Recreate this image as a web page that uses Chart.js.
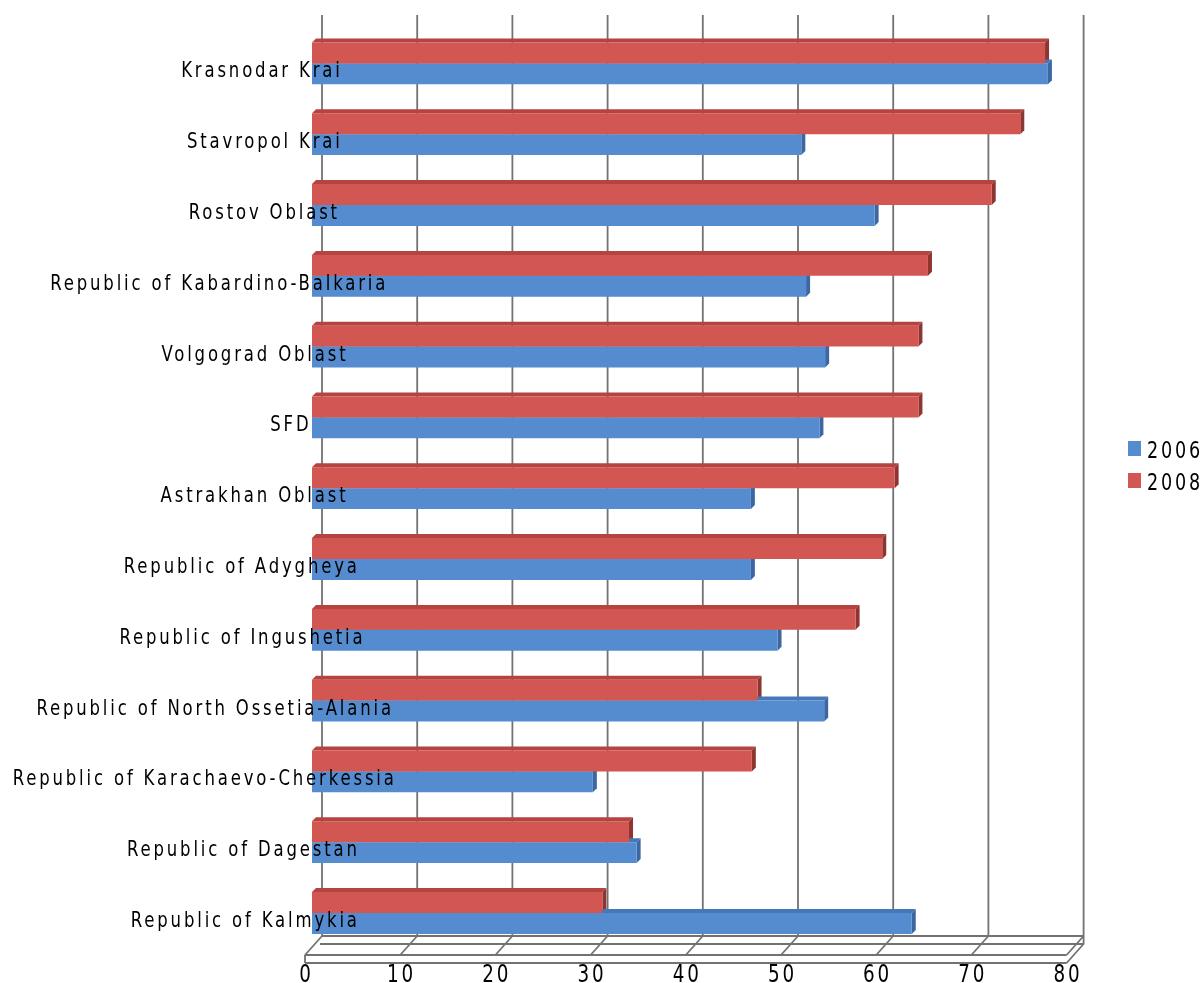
<!DOCTYPE html>
<html>
<head>
<meta charset="utf-8">
<script src="https://cdn.jsdelivr.net/npm/chart.js@4.4.1/dist/chart.umd.min.js"></script>
<style>
  html, body { margin: 0; padding: 0; background: #fff; }
  #wrap { width: 1202px; height: 983px; }
</style>
</head>
<body>
<div id="wrap"><canvas id="chart" width="1202" height="983"></canvas></div>
<script>
// data
const regions = [
  "Krasnodar Krai",
  "Stavropol Krai",
  "Rostov Oblast",
  "Republic of Kabardino-Balkaria",
  "Volgograd Oblast",
  "SFD",
  "Astrakhan Oblast",
  "Republic of Adygheya",
  "Republic of Ingushetia",
  "Republic of North Ossetia-Alania",
  "Republic of Karachaevo-Cherkessia",
  "Republic of Dagestan",
  "Republic of Kalmykia"
];
const values2006 = [77.3, 51.4, 59.1, 51.9, 53.9, 53.3, 46.1, 46.1, 48.9, 53.8, 29.5, 34.1, 63.0];
const values2008 = [77.0, 74.4, 71.4, 64.7, 63.7, 63.7, 61.2, 59.9, 57.1, 46.8, 46.2, 33.3, 30.5];
const seriesNames = ["2006", "2008"];
const xTicks = [0, 10, 20, 30, 40, 50, 60, 70, 80];

const blue = '#558ccf', red = '#d25652';
const sideColors = ['#8e3431', '#3c67a3'];   // by dataset index (2008, 2006)
const topColors = ['#b5433f', '#4677b8'];
const DEPTH = 4;
const WALL = 10;     // back wall shift
const FRONT = -7;    // front edge of floor
const SX = 0.85;     // horizontal squeeze of text
const SPACING = 2.84;

function drawText(ctx, text, left, baseline, size) {
  ctx.save();
  ctx.font = size + 'px "DejaVu Sans Condensed", "DejaVu Sans", sans-serif';
  ctx.textAlign = 'left';
  ctx.textBaseline = 'alphabetic';
  ctx.fillStyle = '#000';
  ctx.translate(left, baseline);
  ctx.scale(SX, 1);
  ctx.letterSpacing = (SPACING / SX) + 'px';
  ctx.fillText(text, 0, 0);
  ctx.restore();
}

function textWidth(ctx, text, size, spaced) {
  ctx.save();
  ctx.font = size + 'px "DejaVu Sans Condensed", "DejaVu Sans", sans-serif';
  ctx.letterSpacing = '0px';
  let w = ctx.measureText(text).width * SX;
  ctx.restore();
  if (spaced) w += SPACING * (text.length - 1);
  return w;
}

function poly(ctx, pts) {
  ctx.beginPath();
  ctx.moveTo(pts[0][0], pts[0][1]);
  for (let i = 1; i < pts.length; i++) ctx.lineTo(pts[i][0], pts[i][1]);
  ctx.closePath();
  ctx.fill();
}

const fake3d = {
  id: 'fake3d',
  beforeDatasetsDraw(chart) {
    const ctx = chart.ctx, xs = chart.scales.x;
    const wallTop = 15, floorBack = 936, floorIn = 944, floorFront = 955, floorBottom = 963;
    const x0 = xs.getPixelForValue(0), x80 = xs.getPixelForValue(80);

    ctx.save();
    ctx.strokeStyle = '#727272';
    ctx.lineWidth = 1.8;
    // back wall grid
    xTicks.forEach(v => {
      let px = xs.getPixelForValue(v) + WALL;
      ctx.beginPath();
      ctx.moveTo(px, wallTop);
      ctx.lineTo(px, floorBack);
      ctx.stroke();
    });
    // floor slab
    ctx.beginPath();
    ctx.moveTo(x0 + WALL, floorBack); ctx.lineTo(x80 + WALL, floorBack);
    ctx.moveTo(x0 + WALL - 2, floorIn); ctx.lineTo(x80 + WALL, floorIn);
    ctx.moveTo(x0 + FRONT, floorFront); ctx.lineTo(x80 + FRONT, floorFront);
    ctx.moveTo(x0 + FRONT, floorBottom); ctx.lineTo(x80 + FRONT, floorBottom);
    ctx.moveTo(x0 + FRONT, floorFront); ctx.lineTo(x0 + FRONT, floorBottom);
    ctx.moveTo(x80 + WALL, floorBack); ctx.lineTo(x80 + WALL, floorIn);
    ctx.lineTo(x80 + FRONT, floorBottom);
    ctx.stroke();
    xTicks.forEach(v => {
      let px = xs.getPixelForValue(v);
      ctx.beginPath();
      ctx.moveTo(px + WALL, floorBack);
      ctx.lineTo(px + FRONT, floorFront);
      ctx.stroke();
    });
    ctx.restore();

    // top and side faces of bars, fronts are drawn by chart.js afterwards
    ctx.save();
    chart.data.datasets.forEach((ds, di) => {
      chart.getDatasetMeta(di).data.forEach(bar => {
        const p = bar.getProps(['x', 'y', 'base', 'height'], true);
        const top = p.y - p.height / 2, bottom = p.y + p.height / 2;
        ctx.fillStyle = topColors[di];
        poly(ctx, [[p.base, top], [p.base + DEPTH, top - DEPTH], [p.x + DEPTH, top - DEPTH], [p.x, top]]);
        ctx.fillStyle = sideColors[di];
        poly(ctx, [[p.x, top], [p.x + DEPTH, top - DEPTH], [p.x + DEPTH, bottom - DEPTH], [p.x, bottom]]);
      });
    });
    ctx.restore();
  },
  afterDatasetsDraw(chart) {
    const ctx = chart.ctx, xs = chart.scales.x, ys = chart.scales.y;
    // category labels: natural width right-aligned, spacing spills over the bars
    regions.forEach((name, i) => {
      let y = ys.getPixelForValue(i) + 14;
      drawText(ctx, name, 303 - textWidth(ctx, name, 21.6, false), y, 21.6);
    });
    // value ticks along the floor front
    xTicks.forEach(v => {
      let label = String(v);
      let w = textWidth(ctx, label, 24, true);
      drawText(ctx, label, xs.getPixelForValue(v) + FRONT - w / 2, 982, 24);
    });
    // legend
    const legend = [[seriesNames[0], blue, 441], [seriesNames[1], red, 473]];
    legend.forEach(l => {
      ctx.fillStyle = l[1];
      ctx.fillRect(1128, l[2], 13, 15);
      drawText(ctx, l[0], 1147, l[2] + 17, 23);
    });
  }
};

new Chart(document.getElementById('chart'), {
  type: 'bar',
  data: {
    labels: regions,
    datasets: [
      { label: seriesNames[1], data: values2008, backgroundColor: red, borderWidth: 0 },
      { label: seriesNames[0], data: values2006, backgroundColor: blue, borderWidth: 0 }
    ]
  },
  options: {
    indexAxis: 'y',
    responsive: false,
    animation: false,
    layout: { padding: { left: 312, right: 128.4, top: 28, bottom: 34.6 } },
    categoryPercentage: 0.59,
    barPercentage: 1,
    scales: {
      x: { min: 0, max: 80, display: false },
      y: { display: false }
    },
    plugins: {
      legend: { display: false },
      tooltip: { enabled: false }
    }
  },
  plugins: [fake3d]
});
</script>
</body>
</html>
